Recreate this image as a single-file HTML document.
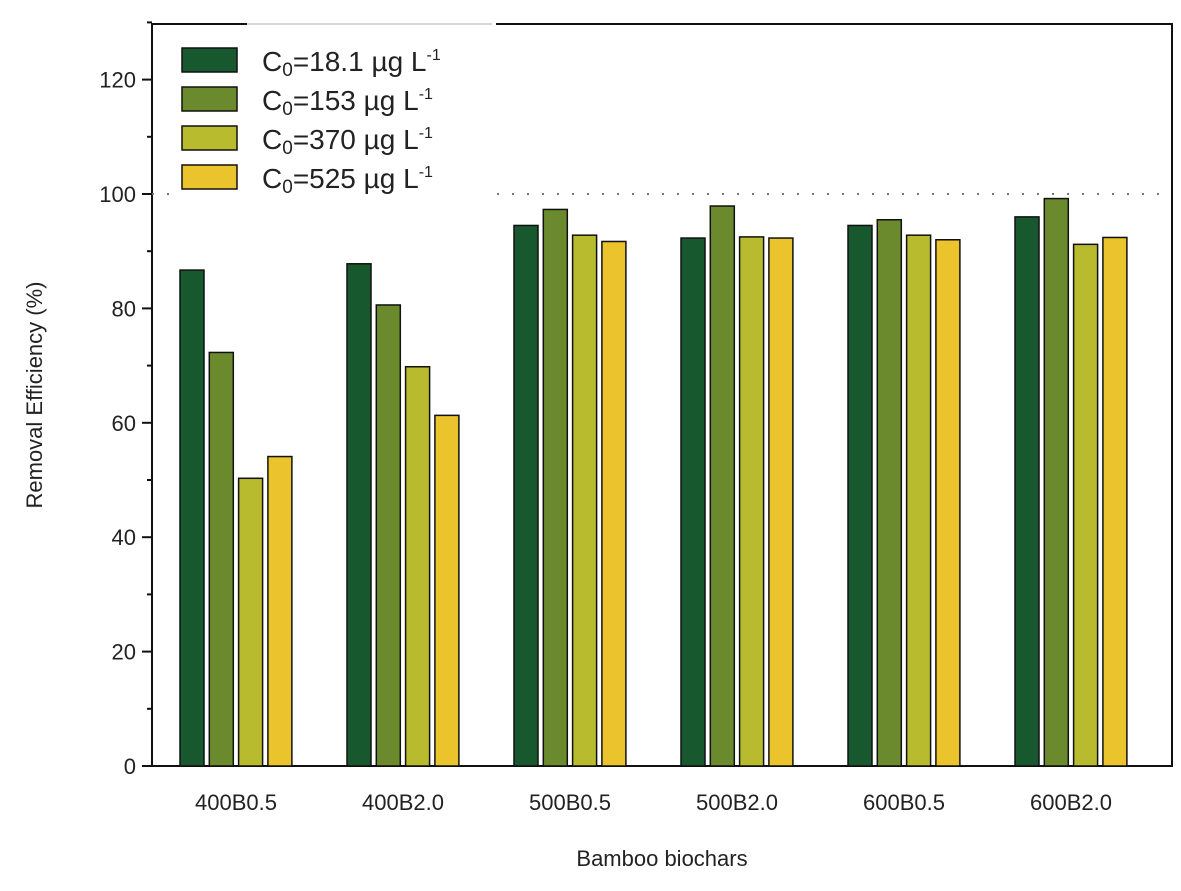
<!DOCTYPE html>
<html><head><meta charset="utf-8"><style>
body{margin:0;background:#fff;}
svg text{font-family:"Liberation Sans",sans-serif;fill:#222;}
</style></head><body>
<svg id="chart" width="1181" height="886" xmlns="http://www.w3.org/2000/svg"></svg>
<script>
const categories=["400B0.5","400B2.0","500B0.5","500B2.0","600B0.5","600B2.0"];
const s1=[86.7,87.8,94.5,92.3,94.5,96.0];
const s2=[72.3,80.6,97.3,97.9,95.5,99.2];
const s3=[50.3,69.8,92.8,92.5,92.8,91.2];
const s4=[54.1,61.3,91.7,92.3,92.0,92.4];
const seriesNames=["18.1","153","370","525"];
const yTicks=[0,20,40,60,80,100,120];
const series=[s1,s2,s3,s4];
const colors=["#18582e","#6b8a2e","#b8bb2e","#ebc32c"];
const NS="http://www.w3.org/2000/svg";
const svg=document.getElementById('chart');
const L=152,R=1172,T=24,B=766;
const y=v=>B-v*5.72;
const gx=i=>236+i*167;
function mk(tag,attrs,parent){const e=document.createElementNS(NS,tag);for(const k in attrs)e.setAttribute(k,attrs[k]);(parent||svg).appendChild(e);return e;}
let f=mk('rect',{x:L,y:T,width:R-L,height:B-T,fill:'none',stroke:'#111','stroke-width':2});


let rl=mk('line',{x1:L,x2:R,y1:y(100),y2:y(100),stroke:'#777','stroke-width':2,'stroke-dasharray':'2,13'});


for(let v=0;v<=130;v+=10){const major=v%20===0;
 let t=mk('line',{x1:L,x2:L-(major?10:5),y1:y(v),y2:y(v),stroke:'#111','stroke-width':2});
 
 }
yTicks.forEach(v=>{let t=mk('text',{x:L-16,y:y(v)+8,'text-anchor':'end','font-size':22});t.textContent=v;
 
 });
categories.forEach((c,i)=>{
 series.forEach((s,j)=>{
  const x=gx(i)-56+j*29.3;
  let r=mk('rect',{x:x,y:y(s[i]),width:24,height:B-y(s[i]),fill:colors[j],stroke:'#111','stroke-width':1.5});
  
  
 });
 let t=mk('text',{x:gx(i),y:810,'text-anchor':'middle','font-size':22});t.textContent=c;
 
 
});
let xt=mk('text',{x:662,y:866,'text-anchor':'middle','font-size':22});xt.textContent='Bamboo biochars';


let yt=mk('text',{x:0,y:0,'text-anchor':'middle','font-size':22,transform:'translate(42,395) rotate(-90)'});yt.textContent='Removal Efficiency (%)';


let lg=mk('g',{});


mk('rect',{x:178,y:22,width:318,height:175,fill:'#fff'},lg);
mk('line',{x1:247,x2:492,y1:24,y2:24,stroke:'#ccc','stroke-width':1.5},lg);
mk('line',{x1:178,x2:247,y1:24,y2:24,stroke:'#111','stroke-width':2},lg);
seriesNames.forEach((n,j)=>{
 const yy=48+j*39;
 let sw=mk('rect',{x:182,y:yy,width:55,height:24,fill:colors[j],stroke:'#111','stroke-width':1.5},lg);
 
 
 let t=mk('text',{x:262,y:yy+23,'font-size':28},lg);
 t.innerHTML='C<tspan font-size="19" dy="5">0</tspan><tspan dy="-5">='+n+' µg L</tspan><tspan font-size="16" dy="-11">-1</tspan>';
 
 
});
</script>
</body></html>
